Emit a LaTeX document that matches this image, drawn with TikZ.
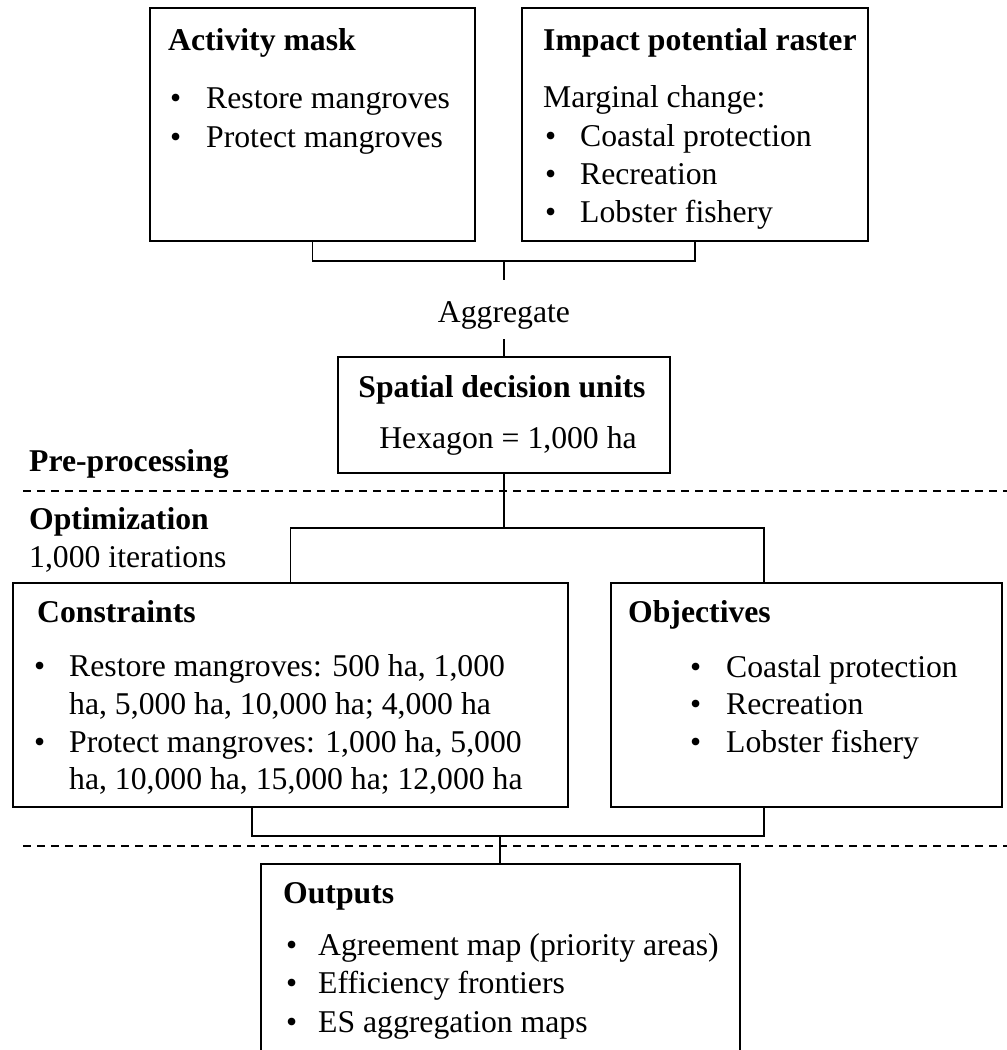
\documentclass[tikz,border=0pt]{standalone}
\usepackage{fontspec}
\setmainfont{Liberation Serif}
\begin{document}
\begin{tikzpicture}[x=1pt,y=-1pt,
  box/.style={draw, line width=2.5pt, inner sep=0pt},
  link/.style={line width=1.6pt},
  sepline/.style={line width=1.8pt, dash pattern=on 8pt off 6pt},
  txt/.style={anchor=base west, inner sep=0pt, font=\fontsize{31.7}{38}\selectfont},
  ttl/.style={anchor=base west, inner sep=0pt, font=\fontsize{31.7}{38}\selectfont\bfseries},
  bul/.style={anchor=base west, inner sep=0pt, font=\fontsize{31.7}{38}\selectfont}]
\clip (0,0) rectangle (1007,1050);

% boxes
\node[box, minimum width=325pt, minimum height=233pt] (act) at (312.5,124.5) {};
\node[box, minimum width=346pt, minimum height=233pt] (imp) at (695,124.5) {};
\node[box, minimum width=332pt, minimum height=116pt] (sdu) at (504,415) {};
\node[box, minimum width=555pt, minimum height=224pt] (con) at (290.5,695) {};
\node[box, minimum width=391pt, minimum height=224pt] (obj) at (806.5,695) {};
\node[box, minimum width=479pt, minimum height=216pt] (out) at (500.5,972) {};

% Activity mask
\node[ttl] (actT) at (168,50) {Activity mask};
\node[bul] (actB1) at (170,108) {•};
\node[txt] (actL1) at (206,108) {Restore mangroves};
\node[bul] (actB2) at (170,147) {•};
\node[txt] (actL2) at (206,147) {Protect mangroves};

% Impact potential raster
\node[ttl] (impT) at (543,50) {Impact potential raster};
\node[txt] (impL0) at (543,107) {Marginal change:};
\node[bul] (impB1) at (545,146) {•};
\node[txt] (impL1) at (580,146) {Coastal protection};
\node[bul] (impB2) at (545,184) {•};
\node[txt] (impL2) at (580,184) {Recreation};
\node[bul] (impB3) at (545,222) {•};
\node[txt] (impL3) at (580,222) {Lobster fishery};

% Aggregate
\node[anchor=base, inner sep=0pt, text height=42pt, text depth=17pt,
      font=\fontsize{31.7}{38}\selectfont] (agg) at (504,322) {Aggregate};

% Spatial decision units
\node[anchor=base, inner sep=0pt, font=\fontsize{31.7}{38}\selectfont\bfseries] (sduT) at (502,397) {Spatial decision units};
\node[anchor=base, inner sep=0pt, font=\fontsize{31.7}{38}\selectfont] (sduL) at (508,448) {Hexagon = 1,000 ha};

% section labels
\node[ttl] (pre) at (29,471) {Pre-processing};
\node[ttl] (opt) at (29,529) {Optimization};
\node[txt] (iter) at (29,567) {1,000 iterations};

% Constraints
\node[ttl] (conT) at (37,622) {Constraints};
\node[bul] (conB1) at (34,676) {•};
\node[txt] (conL1) at (69,676) {Restore mangroves: 500 ha, 1,000};
\node[txt] (conL2) at (69,714) {ha, 5,000 ha, 10,000 ha; 4,000 ha};
\node[bul] (conB2) at (34,752) {•};
\node[txt] (conL3) at (69,752) {Protect mangroves: 1,000 ha, 5,000};
\node[txt] (conL4) at (69,789) {ha, 10,000 ha, 15,000 ha; 12,000 ha};

% Objectives
\node[ttl] (objT) at (628,622) {Objectives};
\node[bul] (objB1) at (690,677) {•};
\node[txt] (objL1) at (726,677) {Coastal protection};
\node[bul] (objB2) at (690,714) {•};
\node[txt] (objL2) at (726,714) {Recreation};
\node[bul] (objB3) at (690,752) {•};
\node[txt] (objL3) at (726,752) {Lobster fishery};

% Outputs
\node[ttl] (outT) at (283,903) {Outputs};
\node[bul] (outB1) at (286,955) {•};
\node[txt] (outL1) at (318,955) {Agreement map (priority areas)};
\node[bul] (outB2) at (286,993) {•};
\node[txt] (outL2) at (318,993) {Efficiency frontiers};
\node[bul] (outB3) at (286,1032) {•};
\node[txt] (outL3) at (318,1032) {ES aggregation maps};

% separators
\coordinate (s1a) at (23,491);
\coordinate (s1b) at (1007,491);
\coordinate (s2a) at (23,846);
\coordinate (s2b) at (1007,846);
\draw[sepline] (s1a) -- (s1b);
\draw[sepline] (s2a) -- (s2b);

% connectors
\coordinate (j1) at (504,261);
\draw[link] (act.south) |- (j1) -| (imp.south);
\draw[link] (j1) -- (agg.north);
\draw[link] (agg.south) -- (sdu.north);

\coordinate (j2) at (504,528);
\coordinate (objT2) at (764,583);
\draw[link] (sdu.south) -- (j2);
\draw[link] (con.north) |- (j2) -| (objT2);

\coordinate (conBt) at (252,807);
\coordinate (objBt) at (764,807);
\coordinate (j3) at (500,836);
\draw[link] (conBt) |- (j3) -| (objBt);
\draw[link] (j3) -- (j3 |- out.north);
\end{tikzpicture}
\end{document}
